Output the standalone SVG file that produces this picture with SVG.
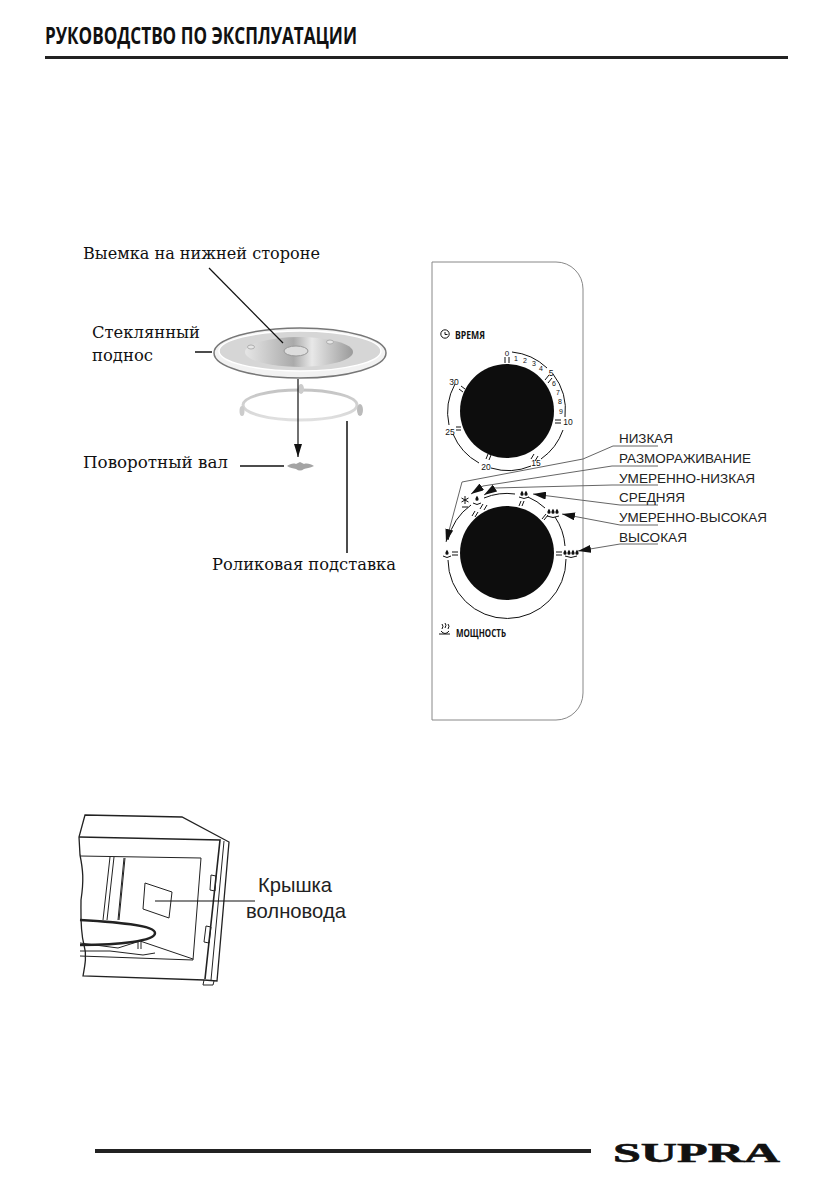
<svg xmlns="http://www.w3.org/2000/svg" xmlns:xlink="http://www.w3.org/1999/xlink" width="839" height="1191" viewBox="0 0 839 1191">
<style>
.ser{font-family:"DejaVu Serif","Liberation Serif",serif;font-size:17px;fill:#111}
.lab{font-family:"Liberation Sans",Arial,sans-serif;font-size:13px;fill:#222}
.num{font-family:"Liberation Sans",Arial,sans-serif;fill:#111;text-anchor:middle}
.hd{font-family:"Open Sans","Noto Sans",sans-serif;font-weight:700;fill:#111}
.ln{fill:none;stroke:#111;stroke-width:1.2}
.gl{fill:none;stroke:#666;stroke-width:1}
.arc{fill:none;stroke:#111;stroke-width:1}
.tk{stroke:#111;stroke-width:1;fill:none}
.ov{fill:none;stroke:#222;stroke-width:1}
</style>
<defs>
<linearGradient id="dish" x1="0" x2="1" y1="0" y2="0"><stop offset="0" stop-color="#e6e6e6"/><stop offset=".45" stop-color="#aaa"/><stop offset=".62" stop-color="#e8e8e8"/><stop offset="1" stop-color="#9a9a9a"/></linearGradient>
<linearGradient id="ring" x1="0" x2="0" y1="0" y2="1"><stop offset="0" stop-color="#c4c4c4"/><stop offset="1" stop-color="#e0e0e0"/></linearGradient>
<marker id="ah" viewBox="0 0 13 8" refX="13" refY="4" markerWidth="13" markerHeight="8" markerUnits="userSpaceOnUse" orient="auto"><path d="M13 4L0 0V8Z" fill="#111"/></marker>
<path id="drop" d="M0-3.2C1-1.5 1.6-.8 1.6.2A1.6 1.6 0 0 1-1.6.2C-1.6-.8-1-1.5 0-3.2Z" fill="#111"/>
</defs>

<g id="header">
<text class="hd" x="45" y="44" font-size="24" textLength="312" lengthAdjust="spacingAndGlyphs">РУКОВОДСТВО ПО ЭКСПЛУАТАЦИИ</text>
<rect x="45" y="56" width="743" height="3" fill="#222"/>
</g>

<g id="turntable">
<ellipse cx="300" cy="405" rx="57" ry="15" fill="none" stroke="url(#ring)" stroke-width="3"/>
<ellipse cx="242" cy="411" rx="2.5" ry="5" fill="#ccc"/>
<ellipse cx="360" cy="410" rx="3" ry="6" fill="#bbb"/>
<ellipse cx="301" cy="389" rx="3" ry="5" fill="#ccc"/>
<ellipse cx="300" cy="353" rx="86" ry="25" fill="#f2f2f2" stroke="#777" stroke-width="1.5"/>
<ellipse cx="300" cy="351" rx="81" ry="20" fill="#d6d6d6" stroke="#fff" stroke-width="1.5"/>
<ellipse cx="299" cy="352" rx="54" ry="15" fill="url(#dish)"/>
<ellipse cx="296" cy="351" rx="12" ry="5" fill="#ddd" stroke="#999"/>
<ellipse cx="251" cy="347" rx="3.5" ry="2" fill="#e6e6e6" stroke="#999" stroke-width=".7"/>
<ellipse cx="330" cy="342" rx="3.5" ry="2" fill="#e6e6e6" stroke="#999" stroke-width=".7"/>
<path id="shaft" d="M287 466C290 464 293 463 296 464L300 462L304 464C307 463 311 464 314 466C310 468 306 468 304 469Q300 472 296 469C293 468 290 468 287 466Z" fill="#a4a4a4"/>
</g>

<g id="turntable-leaders">
<path class="ln" d="M209 268L283 343"/>
<path class="ln" d="M195 352H212" style="stroke-width:1.5"/>
<path class="ln" d="M298 379V457" marker-end="url(#ah)"/>
<path class="ln" d="M240 466H284" style="stroke-width:1.5"/>
<path class="ln" d="M347 421V553" style="stroke-width:1.5"/>
</g>

<g id="turntable-labels">
<text class="ser" x="83" y="259" textLength="237" lengthAdjust="spacingAndGlyphs">Выемка на нижней стороне</text>
<text class="ser" x="92" y="338" textLength="108" lengthAdjust="spacingAndGlyphs">Стеклянный</text>
<text class="ser" x="92" y="361" textLength="61" lengthAdjust="spacingAndGlyphs">поднос</text>
<text class="ser" x="83" y="468" textLength="145" lengthAdjust="spacingAndGlyphs">Поворотный вал</text>
<text class="ser" x="212" y="570" textLength="184" lengthAdjust="spacingAndGlyphs">Роликовая подставка</text>
</g>

<g id="panel">
<path d="M432 262H556A27 27 0 0 1 583 289V693A27 27 0 0 1 556 720H432Z" fill="#fff" stroke="#888" stroke-width="1"/>
</g>

<g id="timer">
<circle cx="507" cy="411" r="47" fill="#0d0d0d"/>
<path class="arc" d="M512 352A59 59 0 0 1 547 368M553 374A59 59 0 0 1 565 417"/>
<path class="arc" d="M563 430A59 59 0 0 1 541 459M531 466A59 59 0 0 1 491 468"/>
<path class="arc" d="M479 463A59 59 0 0 1 453 434M449 425A59 59 0 0 1 455 384"/>
<g class="tk">
<path d="M505 363V357M509 363V357"/>
<path d="M545 380L549 375M548 383L552 378"/>
<path d="M555 420H561M555 423H561"/>
<path d="M531 459L534 454M535 461L538 456"/>
<path d="M488 454L486 459M491 455L489 460"/>
<path d="M456 427H461M456 430H461"/>
<path d="M461 386L465 389M459 389L463 392"/>
</g>
<text class="num" style="font-size:8px" x="507" y="356">0</text>
<g class="num" style="font-size:7px">
<text x="516" y="361">1</text><text x="525" y="363">2</text><text x="534" y="366">3</text><text x="541" y="371">4</text>
<text x="554" y="386">6</text><text x="558" y="395">7</text><text x="560" y="404">8</text><text x="561" y="414">9</text>
</g>
<g class="num" style="font-size:8.5px">
<text x="551" y="376">5</text><text x="568" y="425">10</text><text x="536" y="466">15</text><text x="486" y="470">20</text><text x="450" y="435">25</text><text x="454" y="385">30</text>
</g>
</g>

<g id="power">
<circle cx="507" cy="553" r="47" fill="#0d0d0d"/>
<path class="arc" d="M448 560A59 59 0 0 0 566 559M565 546A59 59 0 0 0 555 517M545 508A59 59 0 0 0 528 497M515 494A59 59 0 0 0 484 498M471 505A59 59 0 0 0 448 540"/>
<g class="tk">
<path d="M452 552H458M452 555H458"/>
<path d="M556 552H562M556 555H562"/>
<path d="M542 519L546 514M544 520L548 515"/>
<path d="M519 506L521 501M522 506L524 501"/>
<path d="M480 509L483 504M484 510L487 505"/>
<path d="M472 516L475 511M475 517L478 512"/>
<path d="M465 496V504M461.5 498L468.5 502M468.5 498L461.5 502M462 507H468"/>
<path d="M443 556Q447 559 451 556M473 503Q477 506 481 503M519 497Q524 500 529 497M547 516Q553 519 559 516M565 556Q571 559 577 556"/>
</g>
<use xlink:href="#drop" href="#drop" x="447" y="553"/>
<use xlink:href="#drop" href="#drop" x="477" y="499"/>
<use xlink:href="#drop" href="#drop" x="522" y="494"/><use xlink:href="#drop" href="#drop" x="526" y="494"/>
<use xlink:href="#drop" href="#drop" x="549" y="512"/><use xlink:href="#drop" href="#drop" x="553" y="512"/><use xlink:href="#drop" href="#drop" x="557" y="512"/>
<use xlink:href="#drop" href="#drop" x="565" y="553"/><use xlink:href="#drop" href="#drop" x="569" y="553"/><use xlink:href="#drop" href="#drop" x="573" y="553"/><use xlink:href="#drop" href="#drop" x="577" y="553"/>
</g>

<g id="panel-titles">
<circle cx="445" cy="334" r="4.2" fill="none" stroke="#111"/>
<path class="tk" d="M445 332V334.5H447.5"/>
<text class="hd" x="455" y="339" font-size="10" textLength="30" lengthAdjust="spacingAndGlyphs">ВРЕМЯ</text>
<path class="tk" d="M439 634H450M441 631Q445 636 449 631M442 624Q444 626 442 629M445 623Q447 625 445 628M448 624Q450 626 448 629"/>
<text class="hd" x="456" y="637" font-size="11" textLength="50" lengthAdjust="spacingAndGlyphs">МОЩНОСТЬ</text>
</g>

<g id="power-leaders">
<path class="gl" d="M658 446H613L583 459L462 482L446 542" marker-end="url(#ah)"/>
<path class="gl" d="M658 466H612L483 486L471 494" marker-end="url(#ah)"/>
<path class="gl" d="M658 485H612L495 488L484 495" marker-end="url(#ah)"/>
<path class="gl" d="M658 505H620L533 494" marker-end="url(#ah)"/>
<path class="gl" d="M658 525H620L562 514" marker-end="url(#ah)"/>
<path class="gl" d="M658 544H620L578 551" marker-end="url(#ah)"/>
</g>

<g id="power-labels">
<text class="lab" x="619" y="443" textLength="54" lengthAdjust="spacingAndGlyphs">НИЗКАЯ</text>
<text class="lab" x="619" y="463" textLength="132" lengthAdjust="spacingAndGlyphs">РАЗМОРАЖИВАНИЕ</text>
<text class="lab" x="619" y="483" textLength="136" lengthAdjust="spacingAndGlyphs">УМЕРЕННО-НИЗКАЯ</text>
<text class="lab" x="619" y="502" textLength="66" lengthAdjust="spacingAndGlyphs">СРЕДНЯЯ</text>
<text class="lab" x="619" y="522" textLength="148" lengthAdjust="spacingAndGlyphs">УМЕРЕННО-ВЫСОКАЯ</text>
<text class="lab" x="619" y="542" textLength="68" lengthAdjust="spacingAndGlyphs">ВЫСОКАЯ</text>
</g>

<g id="oven">
<path class="ov" style="stroke-width:1.3" d="M85 815L182 817L229 842L217 981L204 980L83 976C85 965 87 955 84 945C80 930 81 915 81 900C84 880 83 870 80 855L79 837Z"/>
<path class="ov" style="stroke-width:1.6" d="M79 837L220 840L205 979"/>
<path class="ov" d="M224 841L211 980M204 980L203 985L213 985L214 981"/>
<path class="ov" d="M80 856L201 858L193 960L80 956"/>
<path class="ov" d="M110 857L103 920M114 857L107 920M124 858L118 920M125 858L119 920"/>
<path class="ov" d="M145 883L172 892L169 918L143 909Z"/>
<path class="ov" style="stroke-width:2.5" d="M80 920C115 922 155 925 155 933C155 941 120 945 80 945"/>
<path class="ov" d="M80 943L118 948L140 941L193 959M80 951L110 951L143 955L155 953"/>
<path class="ov" d="M138 942V949M141 942V949"/>
<path class="ov" d="M211 875L216 876L215 891L210 890ZM206 926L211 927L209 943L204 942Z"/>
<path id="oven-leader" class="ln" d="M155 901H255"/>
<g id="oven-label" font-family="'Liberation Sans',Arial,sans-serif" font-size="21" fill="#222">
<text x="258" y="892" textLength="74" lengthAdjust="spacingAndGlyphs">Крышка</text>
<text x="246" y="918" textLength="100" lengthAdjust="spacingAndGlyphs">волновода</text>
</g>
</g>

<g id="footer">
<rect x="95" y="1149" width="496" height="4" fill="#222"/>
<text x="613" y="1162" font-family="'Liberation Serif',serif" font-weight="700" font-size="28" fill="#111" stroke="#111" stroke-width=".6" textLength="167" lengthAdjust="spacingAndGlyphs">SUPRA</text>
</g>
</svg>
